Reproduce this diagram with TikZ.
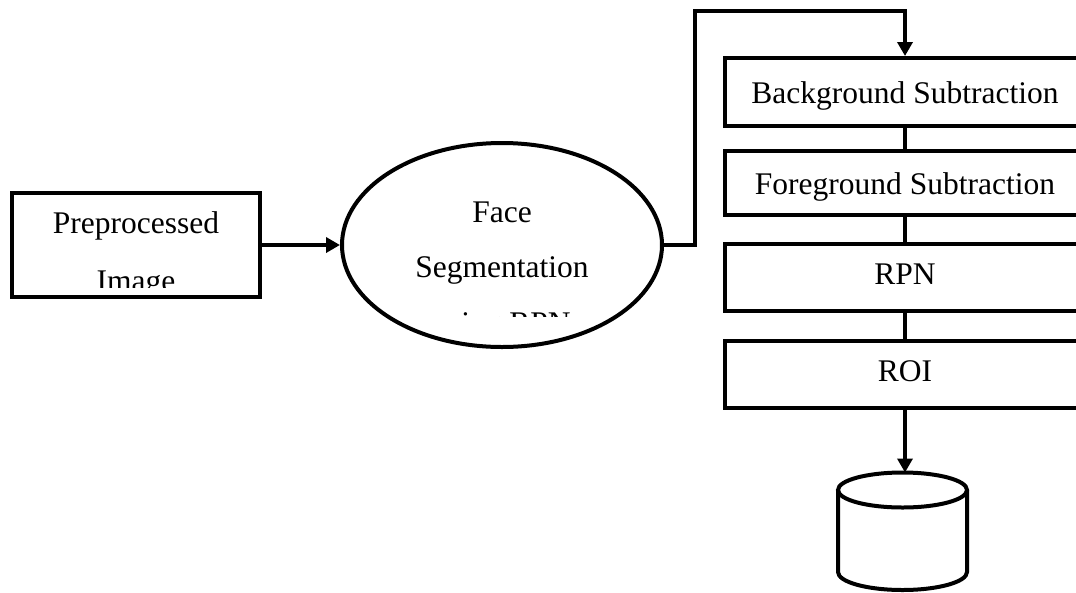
\documentclass[tikz,border=0pt]{standalone}
\usepackage{fontspec}
\setmainfont{Liberation Serif}
\usetikzlibrary{arrows.meta,shapes.geometric}
\tikzset{
  lw/.style={line width=4pt},
  arr/.style={lw,-{Triangle[length=14pt,width=15pt]}},
  txt/.style={anchor=base,inner sep=0pt,font=\fontsize{31.5}{38}\selectfont},
  procbox/.style={draw,lw,rectangle,inner sep=0pt,minimum width=360pt},
}
\begin{document}
\begin{tikzpicture}[x=1pt,y=-1pt]
\useasboundingbox (0,0) rectangle (1076,592);
\clip (0,0) rectangle (1076,592);
\fill[white] (0,0) rectangle (1076,592);
% preprocessed box
\node[draw,lw,rectangle,inner sep=0pt,minimum width=248pt,minimum height=103.5pt] (pre) at (136,245) {};
\begin{scope}
\clip (14,195) rectangle (258,287.5);
\node[txt] (pre1) at (136,233) {Preprocessed};
\node[txt] (pre2) at (136,291) {Image};
\end{scope}
% ellipse
\node[draw,lw,ellipse,inner sep=0pt,minimum width=320pt,minimum height=204pt] (ell) at (502,245) {};
\begin{scope}
\clip (345,140) rectangle (660,316.5);
\node[txt] (e1) at (502,222) {Face};
\node[txt] (e2) at (502,277) {Segmentation};
\node[txt] (e3) at (502,333) {using RPN};
\end{scope}
% right boxes
\node[procbox,minimum height=68pt] (bg) at (905,92) {};
\node[txt] (bgt) at (905,103) {Background Subtraction};
\node[procbox,minimum height=64.5pt] (fg) at (905,183) {};
\node[txt] (fgt) at (905,194) {Foreground Subtraction};
\node[procbox,minimum height=67pt] (rpn) at (905,277) {};
\node[txt] (rpnt) at (905,284) {RPN};
\node[procbox,minimum height=67pt] (roi) at (905,374) {};
\node[txt] (roit) at (905,381) {ROI};
% cylinder
\draw[lw] (902.5,490) ellipse [x radius=64.5, y radius=17.5];
\draw[lw] (838,490) -- (838,572) arc[start angle=180,end angle=360,x radius=64.5,y radius=-18] -- (967,490);
\coordinate (db) at (905,472.5);
% connectors
\draw[arr] (pre.east) -- (ell.west);
\coordinate (up) at (695,11);
\draw[arr] (ell.east) -| (up) -| (bg.north);
\draw[lw] (bg.south) -- (fg.north);
\draw[lw] (fg.south) -- (rpn.north);
\draw[lw] (rpn.south) -- (roi.north);
\draw[arr] (roi.south) -- (db);
\end{tikzpicture}
\end{document}
